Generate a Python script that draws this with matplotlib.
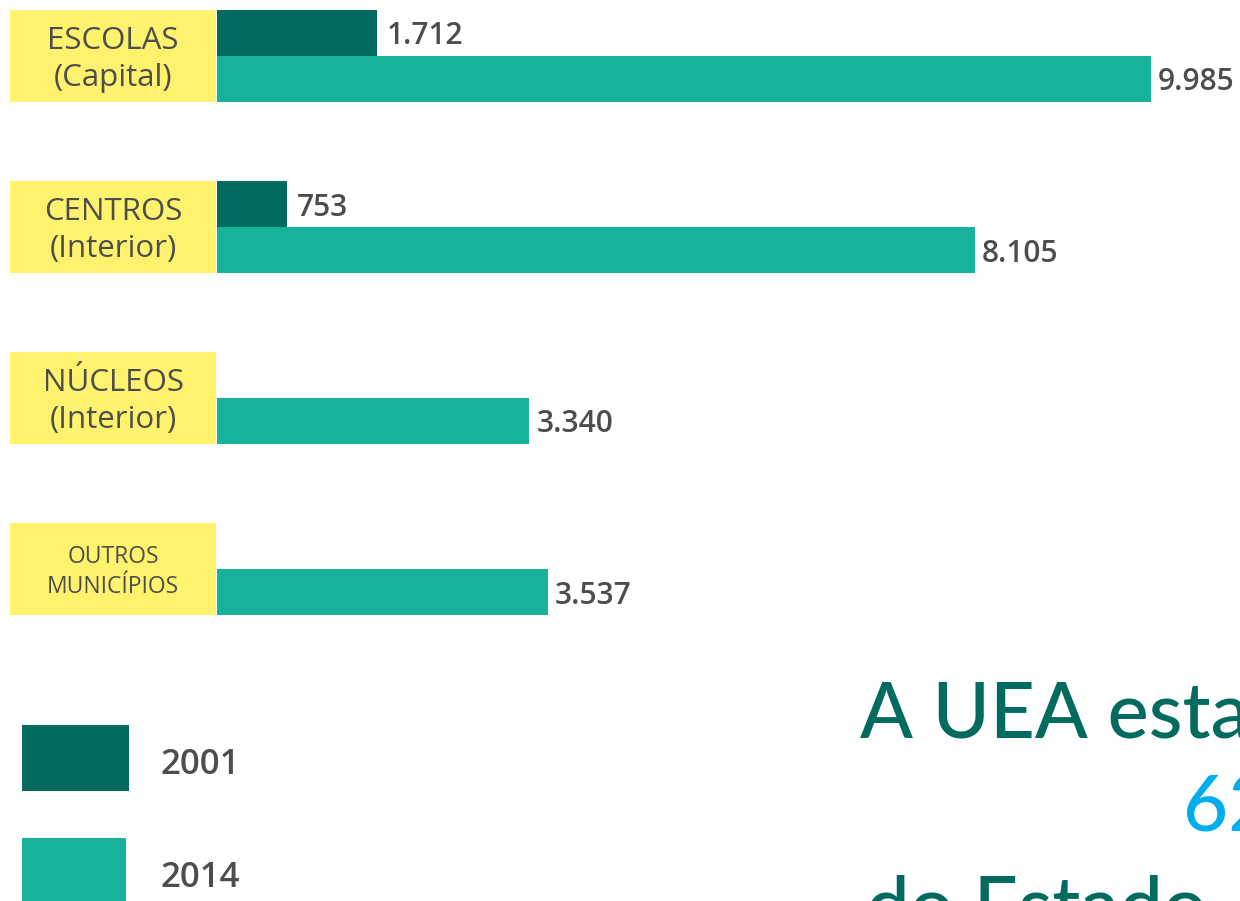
import matplotlib
matplotlib.use("Agg")
import matplotlib.pyplot as plt
from matplotlib.patches import Rectangle
import numpy as np

# ---- data ----
categories = [("ESCOLAS", "(Capital)"), ("CENTROS", "(Interior)"),
              ("NÚCLEOS", "(Interior)"), ("OUTROS", "MUNICÍPIOS")]
values_2001 = [1712, 753, np.nan, np.nan]
values_2014 = [9985, 8105, 3340, 3537]
series_names = ["2001", "2014"]

DARK = "#006B5E"
LIGHT = "#16B39A"
YELLOW = "#FFF36E"
TEXT = "#4D4D4D"
BLUE = "#00AEEF"

W, H = 1240, 901
fig = plt.figure(figsize=(W / 100, H / 100), dpi=100)
fig.patch.set_facecolor("white")

def fmt(v):
    return f"{int(v):,}".replace(",", ".")

U = 171.0          # pixels per category step
axes_h_px = 640.0
top_off = 56.0 / U
ylim = (axes_h_px / U - top_off, -top_off)
h = 46.0 / U

# bar axes
ax = fig.add_axes([217 / W, 1 - axes_h_px / H, (W - 217) / W, axes_h_px / H])
xmax = 9985 * (W - 217) / (1151 - 217)
ax.set_xlim(0, xmax)
ax.set_ylim(*ylim)
y = np.arange(len(categories))
ax.barh(y - h / 2, values_2001, height=h, color=DARK, linewidth=0)
ax.barh(y + h / 2, values_2014, height=h, color=LIGHT, linewidth=0)
for yi, v in zip(y - h / 2, values_2001):
    if not np.isnan(v):
        ax.annotate(fmt(v), (v, yi), xytext=(7, 0), textcoords="offset points",
                    va="center_baseline", ha="left", fontsize=21.5, color=TEXT,
                    family="Open Sans", fontweight="semibold", annotation_clip=False)
for yi, v in zip(y + h / 2, values_2014):
    ax.annotate(fmt(v), (v, yi), xytext=(5, 0), textcoords="offset points",
                va="center_baseline", ha="left", fontsize=21.5, color=TEXT,
                family="Open Sans", fontweight="semibold", annotation_clip=False)
ax.axis("off")

# label axes (yellow boxes)
lax = fig.add_axes([10 / W, 1 - axes_h_px / H, 206 / W, axes_h_px / H], sharey=ax)
lax.set_xlim(0, 1)
lax.barh(y, 1, height=2 * h, color=YELLOW, linewidth=0)
for i, (a, b) in enumerate(categories):
    small = i == 3
    fs = 16.5 if small else 22.5
    gap = 0.085 if small else 0.11
    lax.text(0.5, i - gap, a, ha="center", va="center_baseline", fontsize=fs,
             color=TEXT, family="Open Sans", fontweight="medium")
    lax.text(0.5, i + gap, b, ha="center", va="center_baseline", fontsize=fs,
             color=TEXT, family="Open Sans", fontweight="medium")
lax.axis("off")

# legend
for (x0, y0, x1, y1), col, name, yc in [((22, 725, 129, 791), DARK, series_names[0], 761),
                                        ((22, 838, 126, 905), LIGHT, series_names[1], 874)]:
    fig.add_artist(Rectangle((x0 / W, 1 - y1 / H), (x1 - x0) / W, (y1 - y0) / H,
                             transform=fig.transFigure, color=col, linewidth=0))
    fig.text(160 / W, 1 - yc / H, name, ha="left", va="center_baseline", fontsize=25,
             color=TEXT, family="Open Sans", fontweight="semibold")

# big text
fig.text(860 / W, 1 - 737 / H, "A UEA esta", ha="left", va="baseline",
         fontsize=56, color=DARK, family="Lato", fontweight="medium")
fig.text(1183 / W, 1 - 832 / H, "62", ha="left", va="baseline",
         fontsize=56, color=BLUE, family="Lato", fontweight="medium")
fig.text(866 / W, 1 - 932 / H, "do Estado", ha="left", va="baseline",
         fontsize=56, color=DARK, family="Lato", fontweight="medium")

fig.savefig("out.png", dpi=100, facecolor="white")
